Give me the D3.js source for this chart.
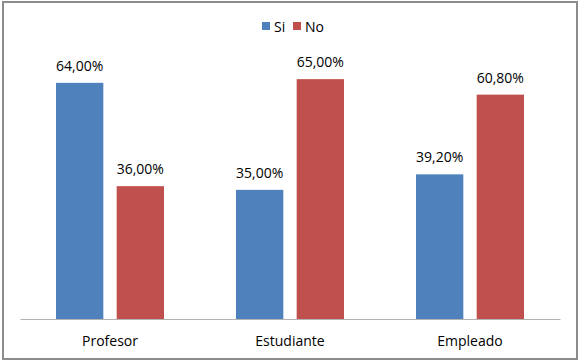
<!DOCTYPE html>
<html>
<head>
<meta charset="utf-8">
<script src="https://cdn.jsdelivr.net/npm/d3@7"></script>
<style>
  body { margin: 0; background: #fff; }
  text { font-family: "Open Sans", "DejaVu Sans", sans-serif; fill: #000; }
</style>
</head>
<body>
<div id="chart"></div>
<script>
const WIDTH = 580;
const HEIGHT = 363;

// datos
const categorias = ["Profesor", "Estudiante", "Empleado"];
const series = ["Si", "No"];
const valoresSi = [64.0, 35.0, 39.2];
const valoresNo = [36.0, 65.0, 60.8];
const colores = ["#4F81BD", "#C0504D"];

const SVG = d3.select("#chart").append("svg")
    .attr("width", WIDTH)
    .attr("height", HEIGHT);

// marco
SVG.append("rect")
    .attr("x", 3)
    .attr("y", 2)
    .attr("width", 574)
    .attr("height", 357)
    .attr("fill", "white")
    .attr("stroke", "#8c8c8c")
    .attr("stroke-width", 2);

// escalas
const x = d3.scaleBand()
    .domain(categorias)
    .range([20, 560]);

const xSerie = d3.scaleBand()
    .domain(series)
    .range([0, 108])
    .paddingInner(0.22);

const y = d3.scaleLinear()
    .domain([0, 70])
    .range([319, 60.7]);

const datos = categorias.map((c, i) => ({
    categoria: c,
    valores: [
        { serie: "Si", valor: valoresSi[i] },
        { serie: "No", valor: valoresNo[i] }
    ]
}));

const color = d3.scaleOrdinal().domain(series).range(colores);

const grupos = SVG.selectAll(".grupo")
    .data(datos)
    .enter()
    .append("g")
    .attr("class", "grupo")
    .attr("transform", d => `translate(${x(d.categoria) + (x.bandwidth() - 108) / 2},0)`);

grupos.selectAll("rect")
    .data(d => d.valores)
    .enter()
    .append("rect")
    .attr("x", d => xSerie(d.serie))
    .attr("y", d => y(d.valor))
    .attr("width", xSerie.bandwidth())
    .attr("height", d => y(0) - y(d.valor))
    .attr("fill", d => color(d.serie));

grupos.selectAll(".etiqueta")
    .data(d => d.valores)
    .enter()
    .append("text")
    .attr("class", "etiqueta")
    .attr("x", d => xSerie(d.serie) + xSerie.bandwidth() / 2)
    .attr("y", d => y(d.valor) - 12)
    .attr("text-anchor", "middle")
    .attr("font-size", "14px")
    .text(d => d.valor.toFixed(2).replace(".", ",") + "%");

// eje x
const ejeX = SVG.append("g")
    .attr("transform", `translate(0,${y(0)})`)
    .call(d3.axisBottom(x).tickSize(0).tickPadding(17));

ejeX.select(".domain").attr("stroke", "#b3b3b3");
ejeX.selectAll("text")
    .attr("font-size", "14px")
    .attr("font-family", "\"Open Sans\", \"DejaVu Sans\", sans-serif");

// leyenda
const leyenda = SVG.append("g")
    .attr("transform", "translate(262,22)");

const itemX = [0, 31];

leyenda.selectAll("rect")
    .data(series)
    .enter()
    .append("rect")
    .attr("x", (d, i) => itemX[i])
    .attr("y", 0)
    .attr("width", 8)
    .attr("height", 8)
    .attr("fill", d => color(d));

leyenda.selectAll("text")
    .data(series)
    .enter()
    .append("text")
    .attr("x", (d, i) => itemX[i] + 12)
    .attr("y", 10)
    .attr("font-size", "14px")
    .text(d => d);
</script>
</body>
</html>
